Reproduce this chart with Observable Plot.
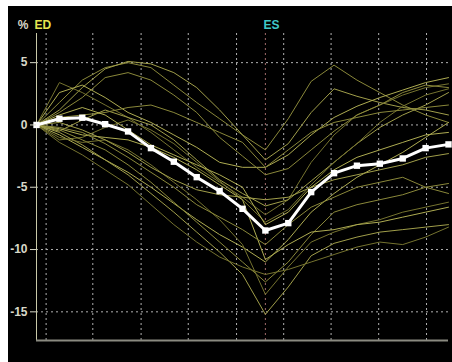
<!DOCTYPE html>
<html><head><meta charset="utf-8">
<script src="https://cdn.jsdelivr.net/npm/d3@7"></script>
<script src="https://cdn.jsdelivr.net/npm/@observablehq/plot@0.6"></script>
<style>
html,body{margin:0;background:#fff;}
#wrap{padding:6px 0 0 8px;width:444px;height:356px;}
svg{display:block;}
</style></head><body><div id="wrap"></div>
<script>
// frame index 0..18 (ED at 0, ES at 10)
const frames = d3.range(19);
const meanCurve = [0, 0.5, 0.58, 0.06, -0.52, -1.86, -2.95, -4.19, -5.31, -6.73, -8.47, -7.88, -5.39, -3.87, -3.27, -3.11, -2.69, -1.86, -1.56];
const subjects = [
  [0, 1.8, 3.6, 4.6, 5.0, 4.6, 3.2, 1.8, 0.5, -0.8, -2.0, 0.5, 3.5, 4.8, 3.6, 2.6, 1.6, 0.8, 0.2],
  [0, 1.2, 3.0, 4.5, 5.1, 4.9, 4.2, 3.0, 1.2, -0.8, -2.8, -1.5, 1.0, 2.9, 2.3, 1.8, 1.4, 1.2, 0.8],
  [0, 3.4, 2.6, 1.6, 0.6, -0.6, -2.0, -3.4, -4.6, -5.8, -7.2, -6.0, -3.0, -0.8, 0.8, 1.6, 2.4, 3.0, 3.3],
  [0, 2.6, 3.2, 2.2, 1.0, 0.2, -0.8, -1.8, -3.0, -3.4, -3.4, -2.4, -0.8, 0.6, 1.5, 2.2, 2.8, 3.4, 3.8],
  [0, 1.0, 2.2, 3.8, 4.2, 3.6, 2.4, 1.0, -1.0, -2.5, -4.0, -3.5, -2.0, -0.5, 0.8, 1.6, 2.6, 3.2, 3.0],
  [0, -0.5, 0.4, 1.2, 0.6, 0.0, -1.2, -2.8, -4.4, -5.5, -6.5, -6.0, -4.5, -3.0, -1.5, -0.2, 0.8, 1.6, 2.6],
  [0, -1.2, -1.0, -0.2, 0.4, -0.4, -1.5, -3.0, -4.5, -6.0, -7.8, -6.8, -4.8, -3.0, -1.5, 0.2, 1.5, 2.4, 2.9],
  [0, -0.8, -1.8, -2.8, -3.8, -5.0, -6.3, -7.6, -8.8, -9.8, -11.0, -9.2, -7.0, -5.5, -4.2, -3.2, -2.2, -1.0, 0.2],
  [0, -0.4, -1.2, -2.0, -3.2, -4.6, -6.2, -7.8, -9.4, -11.0, -12.6, -11.0, -8.8, -7.0, -6.4, -6.0, -5.6, -5.0, -4.7],
  [0, -0.6, -1.6, -2.8, -4.0, -5.5, -7.0, -8.6, -10.2, -12.0, -15.2, -13.0, -10.5, -9.5, -9.0, -8.6, -8.4, -8.2, -8.0],
  [0, -1.0, -1.4, -1.2, -2.0, -3.2, -4.6, -6.0, -7.6, -9.6, -13.6, -11.4, -9.4, -8.6, -8.0, -7.6, -7.0, -6.6, -6.2],
  [0, -0.3, -0.8, -1.0, -1.2, -1.8, -2.6, -3.6, -4.8, -6.0, -10.8, -9.6, -8.6, -8.4, -8.0, -7.8, -7.4, -7.0, -6.6],
  [0, 0.6, 0.8, 1.0, 1.4, 1.6, 1.0, 0.2, -0.6, -1.4, -3.4, -2.0, -0.6, 0.2, 0.6, 1.0, 1.2, 1.4, 1.6],
  [0, 0.2, -0.4, -1.2, -2.2, -3.4, -4.4, -5.2, -5.6, -5.8, -6.0, -5.8, -5.0, -4.4, -4.0, -3.6, -3.2, -2.6, -2.3],
  [0, -1.4, -2.4, -3.6, -4.8, -6.4, -8.0, -9.4, -10.6, -11.4, -12.0, -11.6, -11.0, -10.4, -9.8, -9.4, -9.6, -9.0, -8.2],
  [0, 0.8, 1.4, 0.8, -0.4, -1.6, -2.4, -3.2, -4.0, -5.0, -8.0, -7.0, -5.0, -3.6, -2.6, -2.0, -1.4, -0.8, -0.6],
  [0, -0.2, -0.6, -1.5, -2.6, -3.8, -5.0, -6.4, -7.4, -8.4, -9.6, -8.0, -6.6, -5.8, -5.0, -4.6, -4.2, -5.0, -5.5]
];
const yTicks = [5, 0, -5, -10, -15];
const xGrid = [0.42, 2.46, 4.57, 6.63, 8.74, 10.8, 12.87, 14.95, 17.04];
const edFrame = 0;
const esFrame = 10;
const yMin = -17.3, yMax = 7.34;

const yellows = ["#8a883a", "#a09e4a", "#75732f", "#aeac52"];
const rows = subjects.flatMap((s, k) => s.map((v, i) => ({k, i: frames[i], v, c: yellows[k % yellows.length]})));
const mean = meanCurve.map((v, i) => ({i: frames[i], v}));

const plot = Plot.plot({
  width: 444, height: 356,
  marginLeft: 28, marginRight: 4, marginTop: 27, marginBottom: 22,
  style: {background: "#000", color: "#d8d8c8", fontFamily: "'Liberation Sans', Arial, sans-serif", fontSize: "12px", fontWeight: "bold"},
  x: {domain: [0, 18], axis: null},
  y: {domain: [yMin, yMax], axis: null},
  color: {type: "identity"},
  marks: [
    Plot.ruleY(yTicks, {stroke: "#b0b0b0", strokeDasharray: "2,3", strokeWidth: 1}),
    Plot.ruleX(xGrid, {stroke: "#b0b0b0", strokeDasharray: "2,3", strokeWidth: 1}),
    Plot.ruleX([esFrame], {stroke: "#a06a6a", strokeDasharray: "2,3", strokeWidth: 1}),
    Plot.line(rows, {x: "i", y: "v", z: "k", stroke: "c", strokeWidth: 1}),
    Plot.ruleX([edFrame], {stroke: "#c8c8a8", strokeWidth: 1}),
    Plot.ruleY([yMin], {stroke: "#8a8a80", strokeWidth: 2}),
    Plot.line(mean, {x: "i", y: "v", stroke: "#fff", strokeWidth: 3}),
    Plot.dot(mean, {x: "i", y: "v", symbol: "square", fill: "#fff", r: 3.6}),
    Plot.axisY(yTicks, {label: null, tickSize: 6, tickPadding: 3, tickFormat: d => String(d), color: "#d8d8c8", fontSize: 12, fontWeight: "bold"}),
    Plot.text(["%"], {x: edFrame, y: yMax, dx: -13.5, dy: -5, lineAnchor: "bottom", fill: "#d8d8c8", fontSize: 12, fontWeight: "bold"}),
    Plot.text(["ED"], {x: edFrame, y: yMax, dx: -2, dy: -5, lineAnchor: "bottom", textAnchor: "start", fill: "#e6e650", fontSize: 12, fontWeight: "bold"}),
    Plot.text(["ES"], {x: esFrame, y: yMax, dx: -2, dy: -5, lineAnchor: "bottom", textAnchor: "start", fill: "#40c8c8", fontSize: 12, fontWeight: "bold"})
  ]
});
document.getElementById("wrap").appendChild(plot);
</script>
</body></html>
